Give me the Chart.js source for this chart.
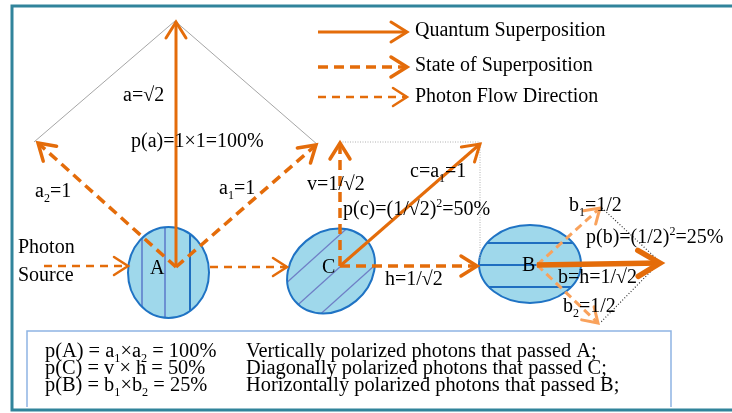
<!DOCTYPE html>
<html lang="en">
<head>
    <meta charset="UTF-8">
    <title>photon polarization diagram</title>
    <script src="https://cdn.jsdelivr.net/npm/chart.js@4/dist/chart.umd.min.js"></script>
    <style>
        html, body { margin: 0; padding: 0; background: #fff; }
        #wrap { width: 732px; height: 413px; }
    </style>
</head>
<body>
    <div id="wrap"><canvas id="diagram" width="732" height="413"></canvas></div>
    <script>
        // ---- data (diagram units, y grows downward) ----
        const arrowNames = ['a', 'a2', 'a1', 'source', 'flowAC', 'v', 'c', 'h', 'b', 'b1', 'b2', 'legQuantum', 'legState', 'legFlow'];
        const arrowKind  = ['quantum', 'state', 'state', 'flow', 'flow', 'state', 'quantum', 'state', 'quantumBold', 'stateLight', 'stateLight', 'quantum', 'state', 'flow'];
        const arrowX0 = [176, 176, 176, 44, 210, 340, 340, 340, 537, 537, 537, 318, 318, 318];
        const arrowY0 = [267, 267, 267, 266, 267, 266, 266, 266, 265, 265, 265, 32, 67, 97];
        const arrowX1 = [176, 38, 316, 128, 287, 340, 480, 477, 660, 600, 598, 407, 407, 407];
        const arrowY1 = [22, 143, 145, 266, 267, 143, 144, 266, 263, 208, 323, 32, 67, 97];

        // guide lines: triangle over A, box over C, rhombus at B
        const guideKind = ['thin', 'dotted', 'dark'];
        const guideX = [[34, 175, 318], [340, 480, 480], [602, 660, 601]];
        const guideY = [[142, 21, 145], [142, 142, 262], [208, 262, 322]];

        // polarizers
        const polName = ['A', 'C', 'B'];
        const polCx = [168.5, 331, 530];
        const polCy = [272.5, 271, 264];
        const polRx = [40.5, 47, 51];
        const polRy = [45.5, 39, 39];
        const polRot = [0, -40, 0];            // degrees
        const polLineAngle = [90, -42, 0];     // orientation of the filter lines
        const polLineOffset = [[-21.5, 3.5, 26.5], [-21, 3, 25], [-21, 1, 23]];

        // labels ( _{..} subscript, ^{..} superscript )
        const labelText = ['a=√2', 'p(a)=1×1=100%', 'a_{2}=1', 'a_{1}=1', 'Photon', 'Source', 'A',
            'v=1/√2', 'c=a_{1}=1', 'p(c)=(1/√2)^{2}=50%', 'h=1/√2', 'C',
            'B', 'b_{1}=1/2', 'p(b)=(1/2)^{2}=25%', 'b=h=1/√2', 'b_{2}=1/2'];
        const labelX = [123, 131, 35, 219, 18, 18, 150, 307, 410, 343, 385, 322, 522, 569, 586, 558, 563];
        const labelY = [96, 142, 192, 189, 248, 276, 269, 185, 172, 210, 280, 268, 266, 206, 238, 278, 307];

        const legendText = ['Quantum Superposition', 'State of Superposition', 'Photon Flow Direction'];
        const legendX = 415;
        const legendY = [31, 66, 97];

        const noteFormula = ['p(A) = a_{1}×a_{2} = 100%', 'p(C) = v × h = 50%', 'p(B) = b_{1}×b_{2} = 25%'];
        const noteMeaning = ['Vertically polarized photons that passed A;', 'Diagonally polarized photons that passed C;', 'Horizontally polarized photons that passed B;'];
        const noteX = [45, 246];
        const noteY = [352, 369, 386];

        // ---- styles ----
        const ORANGE = '#E46C0A';
        const LIGHT_ORANGE = '#F9A25C';
        const FONT = '"Liberation Serif", "Times New Roman", serif';
        const kindStyle = {
            quantum:     { color: ORANGE, width: 3, dash: [], head: 16, half: 10 },
            quantumBold: { color: ORANGE, width: 5.5, dash: [], head: 22, half: 13 },
            state:       { color: ORANGE, width: 3.5, dash: [10, 6], head: 16, half: 10 },
            stateLight:  { color: LIGHT_ORANGE, width: 3, dash: [8, 5], head: 14, half: 9 },
            flow:        { color: ORANGE, width: 2.5, dash: [8, 6], head: 14, half: 9 }
        };
        const guideStyle = {
            thin:   { color: '#a6a6a6', width: 1, dash: [] },
            dotted: { color: '#b0b0b0', width: 1, dash: [1, 1.5] },
            dark:   { color: '#333333', width: 1.2, dash: [1, 2] }
        };

        // ---- datasets ----
        const datasets = [];
        guideKind.forEach((k, i) => {
            const s = guideStyle[k];
            datasets.push({
                data: guideX[i].map((x, j) => ({ x: x, y: guideY[i][j] })),
                showLine: true, borderColor: s.color, borderWidth: s.width, borderDash: s.dash,
                pointRadius: 0, fill: false
            });
        });
        arrowNames.forEach((n, i) => {
            const s = kindStyle[arrowKind[i]];
            datasets.push({
                label: n, arrow: s,
                data: [{ x: arrowX0[i], y: arrowY0[i] }, { x: arrowX1[i], y: arrowY1[i] }],
                showLine: true, borderColor: s.color, borderWidth: s.width, borderDash: s.dash,
                borderCapStyle: 'butt', pointRadius: 0, fill: false
            });
        });

        // rich text: normal / sub / sup segments, optional horizontal stretch
        function drawRich(ctx, str, x, y, size, stretch) {
            const sx = stretch || 1;
            const parts = [];
            const re = /([_^])\{([^}]*)\}/g;
            let last = 0, m;
            while ((m = re.exec(str)) !== null) {
                if (m.index > last) parts.push({ t: str.slice(last, m.index), k: 'n' });
                parts.push({ t: m[2], k: m[1] === '_' ? 'sub' : 'sup' });
                last = re.lastIndex;
            }
            if (last < str.length) parts.push({ t: str.slice(last), k: 'n' });
            ctx.save();
            ctx.translate(x, y);
            ctx.scale(sx, 1);
            ctx.textAlign = 'left';
            ctx.textBaseline = 'middle';
            let cx = 0;
            parts.forEach(p => {
                const small = p.k !== 'n';
                ctx.font = (small ? Math.round(size * 0.62) : size) + 'px ' + FONT;
                const dy = p.k === 'sub' ? size * 0.32 : (p.k === 'sup' ? -size * 0.3 : 0);
                ctx.fillText(p.t, cx, dy);
                cx += ctx.measureText(p.t).width;
            });
            ctx.restore();
        }

        // polarizers behind the arrows
        const polarizerPlugin = {
            id: 'polarizers',
            beforeDatasetsDraw(chart) {
                const ctx = chart.ctx, xs = chart.scales.x, ys = chart.scales.y;
                polName.forEach((n, i) => {
                    const cx = xs.getPixelForValue(polCx[i]), cy = ys.getPixelForValue(polCy[i]);
                    const rx = xs.getPixelForValue(polCx[i] + polRx[i]) - cx;
                    const ry = ys.getPixelForValue(polCy[i] + polRy[i]) - cy;
                    const rot = polRot[i] * Math.PI / 180;
                    ctx.save();
                    ctx.beginPath();
                    ctx.ellipse(cx, cy, rx, ry, rot, 0, Math.PI * 2);
                    ctx.fillStyle = '#9FD8EB';
                    ctx.fill();
                    ctx.save();
                    ctx.clip();
                    const ang = polLineAngle[i] * Math.PI / 180;
                    const dx = Math.cos(ang), dy = Math.sin(ang);
                    const nx = -dy, ny = dx;
                    polLineOffset[i].forEach((o, j) => {
                        const px = cx + nx * o, py = cy + ny * o;
                        ctx.beginPath();
                        ctx.moveTo(px - dx * 80, py - dy * 80);
                        ctx.lineTo(px + dx * 80, py + dy * 80);
                        if (n === 'C') { ctx.strokeStyle = '#6F7FC6'; ctx.lineWidth = 1.3; }
                        else if (n === 'A' && j > 0) { ctx.strokeStyle = '#5F7FCC'; ctx.lineWidth = 1.6; }
                        else { ctx.strokeStyle = '#1F6EC0'; ctx.lineWidth = 2; }
                        ctx.stroke();
                    });
                    ctx.restore();
                    ctx.beginPath();
                    ctx.ellipse(cx, cy, rx, ry, rot, 0, Math.PI * 2);
                    ctx.strokeStyle = '#1F73C4';
                    ctx.lineWidth = 2;
                    ctx.stroke();
                    ctx.restore();
                });
            }
        };

        // chevron heads on the arrow datasets
        const arrowHeadPlugin = {
            id: 'arrowHeads',
            afterDatasetsDraw(chart) {
                const ctx = chart.ctx;
                chart.data.datasets.forEach((ds, i) => {
                    if (!ds.arrow) return;
                    const pts = chart.getDatasetMeta(i).data;
                    const p0 = pts[0], p1 = pts[1];
                    const ang = Math.atan2(p1.y - p0.y, p1.x - p0.x);
                    const s = ds.arrow;
                    const bx = Math.cos(ang), by = Math.sin(ang);
                    ctx.save();
                    ctx.strokeStyle = s.color;
                    ctx.lineWidth = s.width;
                    ctx.lineCap = 'round';
                    ctx.lineJoin = 'miter';
                    ctx.setLineDash([]);
                    ctx.beginPath();
                    ctx.moveTo(p1.x - bx * s.head - by * s.half, p1.y - by * s.head + bx * s.half);
                    ctx.lineTo(p1.x, p1.y);
                    ctx.lineTo(p1.x - bx * s.head + by * s.half, p1.y - by * s.head - bx * s.half);
                    ctx.stroke();
                    ctx.restore();
                });
            }
        };

        // frame, note box and all text
        const textPlugin = {
            id: 'texts',
            beforeDraw(chart) {
                const ctx = chart.ctx;
                ctx.save();
                ctx.fillStyle = '#ffffff';
                ctx.fillRect(0, 0, chart.width, chart.height);
                ctx.restore();
            },
            afterDraw(chart) {
                const ctx = chart.ctx, xs = chart.scales.x, ys = chart.scales.y;
                const X = v => xs.getPixelForValue(v), Y = v => ys.getPixelForValue(v);
                ctx.save();
                // outer frame
                ctx.strokeStyle = '#31849B';
                ctx.lineWidth = 3;
                ctx.beginPath();
                ctx.moveTo(X(740), Y(6)); ctx.lineTo(X(12), Y(6));
                ctx.lineTo(X(12), Y(410)); ctx.lineTo(X(740), Y(410));
                ctx.stroke();
                // note box (open at the bottom)
                ctx.strokeStyle = '#8EB4E3';
                ctx.lineWidth = 1.5;
                ctx.beginPath();
                ctx.moveTo(X(27), Y(407)); ctx.lineTo(X(27), Y(331));
                ctx.lineTo(X(671), Y(331)); ctx.lineTo(X(671), Y(407));
                ctx.stroke();

                ctx.fillStyle = '#000000';
                labelText.forEach((t, i) => drawRich(ctx, t, X(labelX[i]), Y(labelY[i]), 20));
                legendText.forEach((t, i) => drawRich(ctx, t, X(legendX), Y(legendY[i]), 20));
                noteFormula.forEach((t, i) => {
                    drawRich(ctx, t, X(noteX[0]), Y(noteY[i]), 20, 1.02);
                    drawRich(ctx, noteMeaning[i], X(noteX[1]), Y(noteY[i]), 20, 1.02);
                });
                ctx.restore();
            }
        };

        new Chart(document.getElementById('diagram').getContext('2d'), {
            type: 'scatter',
            data: { datasets: datasets },
            options: {
                responsive: false,
                animation: false,
                events: [],
                layout: { padding: 0 },
                plugins: { legend: { display: false }, tooltip: { enabled: false } },
                scales: {
                    x: { type: 'linear', min: 0, max: 732, display: false },
                    y: { type: 'linear', min: 0, max: 413, reverse: true, display: false }
                }
            },
            plugins: [textPlugin, polarizerPlugin, arrowHeadPlugin]
        });
    </script>
</body>
</html>
